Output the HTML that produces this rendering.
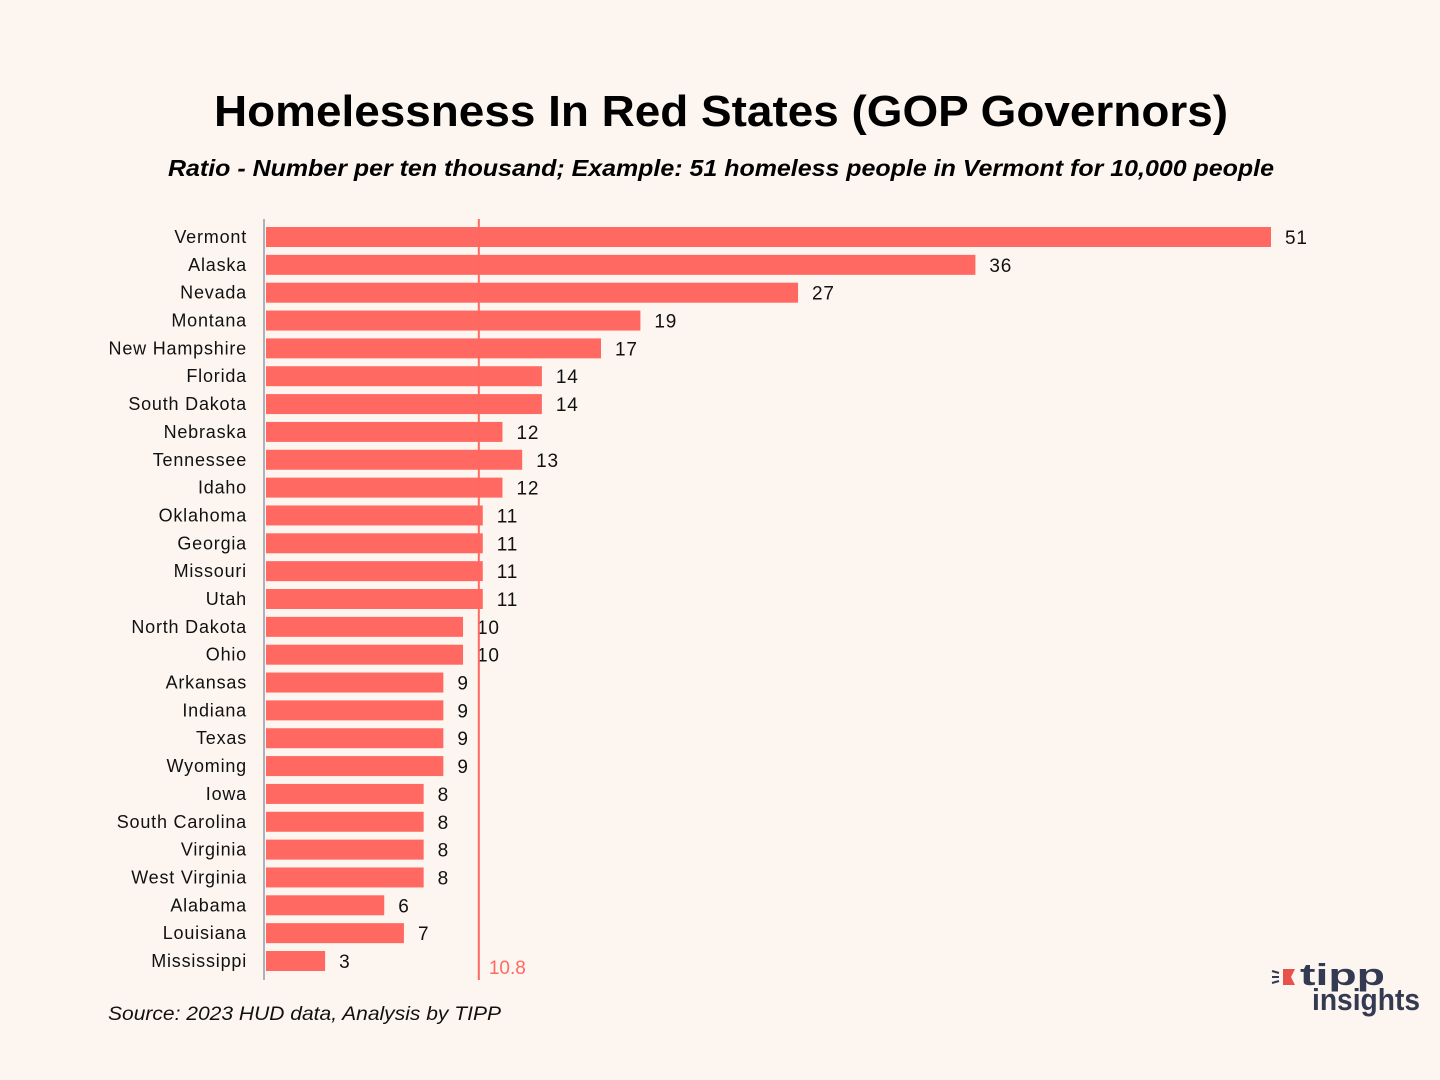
<!DOCTYPE html>
<html><head><meta charset="utf-8"><style>
body{margin:0;background:#fdf6f0;}
#wrap{position:relative;width:1440px;height:1080px;background:#fdf6f0;font-family:"Liberation Sans","DejaVu Sans",sans-serif;overflow:hidden}
</style></head><body>
<div id="wrap">
<svg id="chart" width="1440" height="1080">
<text x="214" y="126" textLength="1014" lengthAdjust="spacingAndGlyphs" font-size="44" font-weight="bold" fill="#000" font-family="Liberation Sans, sans-serif">Homelessness In Red States (GOP Governors)</text>
<text x="168" y="176" textLength="1106" lengthAdjust="spacingAndGlyphs" font-size="23" font-weight="bold" font-style="italic" fill="#000">Ratio - Number per ten thousand; Example: 51 homeless people in Vermont for 10,000 people</text>
<g id="bars"></g>
<line x1="264" y1="219" x2="264" y2="980" stroke="#b0b0b8" stroke-width="2"/>
<line id="refline" x1="0" y1="219" x2="0" y2="980" stroke="#ff6961" stroke-width="2"/>
<text id="reflabel" x="0" y="974" font-size="19" fill="#ff6961">10.8</text>
<text x="108" y="1020" textLength="393" lengthAdjust="spacingAndGlyphs" font-size="19" font-style="italic" fill="#111">Source: 2023 HUD data, Analysis by TIPP</text>
<g>
<path d="M1283 969 L1295 969 L1291 977 L1295 985 L1283 985 Z" fill="#e8524a"/>
<line x1="1272" y1="971" x2="1279" y2="973" stroke="#333a52" stroke-width="2"/>
<line x1="1272" y1="977" x2="1279" y2="977" stroke="#333a52" stroke-width="2"/>
<line x1="1272" y1="983" x2="1279" y2="981" stroke="#333a52" stroke-width="2"/>
<text x="1300" y="985" textLength="85" lengthAdjust="spacingAndGlyphs" font-size="31" font-weight="bold" fill="#333a52">tipp</text>
<text x="1312" y="1010" textLength="108" lengthAdjust="spacingAndGlyphs" font-size="31" font-weight="bold" fill="#333a52">insights</text>
</g>
</svg>
</div>
<script>
const states=["Vermont","Alaska","Nevada","Montana","New Hampshire","Florida","South Dakota","Nebraska","Tennessee","Idaho","Oklahoma","Georgia","Missouri","Utah","North Dakota","Ohio","Arkansas","Indiana","Texas","Wyoming","Iowa","South Carolina","Virginia","West Virginia","Alabama","Louisiana","Mississippi"];
const values=[51,36,27,19,17,14,14,12,13,12,11,11,11,11,10,10,9,9,9,9,8,8,8,8,6,7,3];
const averageValue=10.8;
const x0=266,pxPerUnit=1005/51,y0=237,rowStep=724/26,barH=20;
const xs=v=>x0+v*pxPerUnit;
const ys=i=>y0+i*rowStep;
const NS="http://www.w3.org/2000/svg";
const g=document.getElementById('bars');
states.forEach((s,i)=>{
  const r=document.createElementNS(NS,'rect');
  r.setAttribute('x',x0);r.setAttribute('y',ys(i)-barH/2);
  r.setAttribute('width',xs(values[i])-x0);r.setAttribute('height',barH);
  r.setAttribute('fill','#ff6961');
  
  
  g.appendChild(r);
  const l=document.createElementNS(NS,'text');
  l.setAttribute('x',247);l.setAttribute('y',ys(i)+6);
  l.setAttribute('text-anchor','end');l.setAttribute('font-size','18');l.setAttribute('fill','#111');
  l.setAttribute('letter-spacing','0.8');
  l.textContent=s;
  
  
  g.appendChild(l);
  const v=document.createElementNS(NS,'text');
  v.setAttribute('x',xs(values[i])+14);v.setAttribute('y',ys(i)+7);
  v.setAttribute('font-size','19');v.setAttribute('fill','#111');
  v.setAttribute('letter-spacing','0.8');
  v.textContent=values[i];
  
  
  g.appendChild(v);
});
const rl=document.getElementById('refline');
rl.setAttribute('x1',xs(averageValue));rl.setAttribute('x2',xs(averageValue));
const rt=document.getElementById('reflabel');
rt.setAttribute('x',xs(averageValue)+10);rt.textContent=averageValue;
</script>
</body></html>
